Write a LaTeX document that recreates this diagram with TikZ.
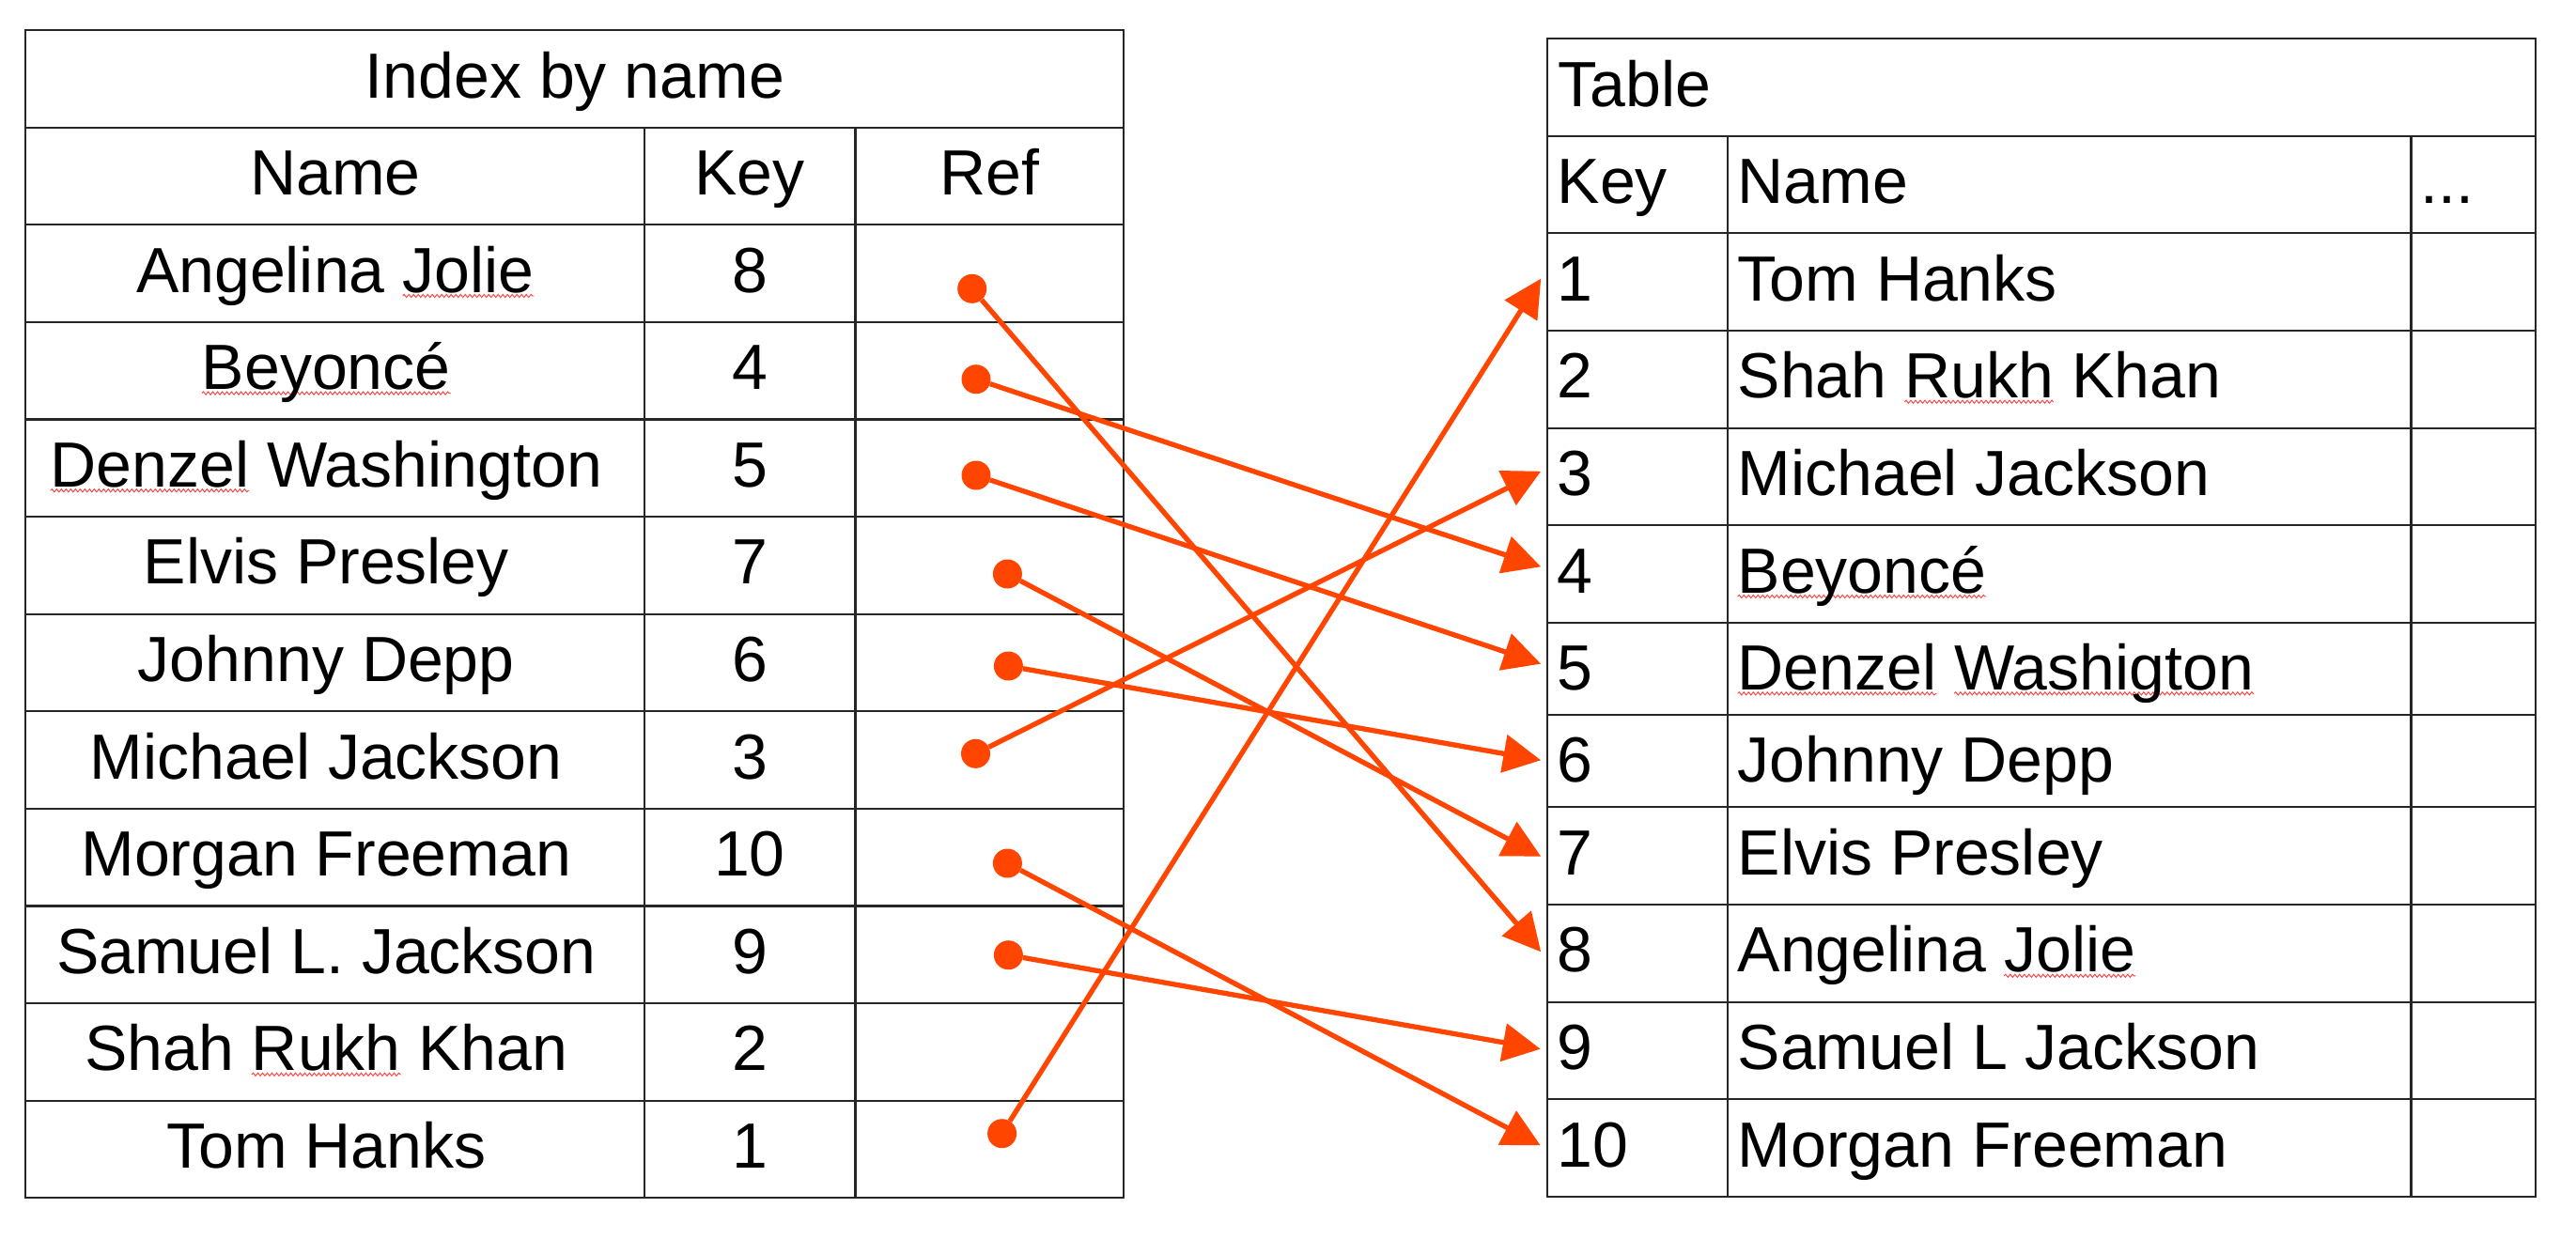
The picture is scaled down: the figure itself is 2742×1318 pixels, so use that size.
\documentclass[tikz,border=0pt]{standalone}
\usepackage{fontspec}
\setmainfont{Liberation Sans}
\usetikzlibrary{arrows.meta,decorations.pathmorphing}
\definecolor{arr}{HTML}{FF4500}
\definecolor{squigc}{HTML}{FF3B3B}
\newsavebox\sqbox
\newlength\sqwd
\newcommand\sq[1]{\sbox\sqbox{#1}\setlength\sqwd{\wd\sqbox}\rlap{\tikz[overlay,baseline=0pt]\draw[squigc,line width=0.9pt,decorate,decoration={snake,amplitude=1.6pt,segment length=5pt}] (0pt,-4pt) -- (\sqwd,-4pt);}\usebox\sqbox}
\begin{document}
\begin{tikzpicture}[x=1pt,y=-1pt,
  tbl/.style={draw=black!85,line width=2.2pt},
  txt/.style={font=\fontsize{68}{80}\selectfont,inner sep=0pt,anchor=base},
  ltxt/.style={txt,anchor=base west},
  dotn/.style={circle,fill=arr,inner sep=0pt,minimum size=31pt},
  link/.style={draw=arr,line width=5.3pt,-{Triangle[length=40pt,width=40pt]}}]
\fill[white] (0,0) rectangle (2742,1318);
\useasboundingbox (0,0) rectangle (2742,1318);

% ---------- left table ----------
\draw[tbl] (27,32) rectangle (1196,1275.2);
\foreach \i in {1,...,11}{
  \pgfmathsetmacro\yy{32+103.6*\i}
  \draw[tbl] (27,\yy) -- (1196,\yy);
}
\draw[tbl] (685.6,135.6) -- (685.6,1275.2);
\draw[tbl] (910.4,135.6) -- (910.4,1275.2);
\node[txt] (ltitle) at (612,104.3) {Index by name};
\node[txt] (lhname) at (356.8,207.4) {Name};
\node[txt] (lhkey) at (798,207.4) {Key};
\node[txt] (lhref) at (1053.2,207.4) {Ref};
\foreach \nm/\k/\xc [count=\r from 1] in {Angelina \sq{Jolie}/8/356.8,\sq{Beyoncé}/4/347.3,\sq{Denzel} Washington/5/347.3,Elvis Presley/7/347.3,Johnny Depp/6/347.3,Michael Jackson/3/347.3,Morgan Freeman/10/347.3,Samuel L. Jackson/9/347.3,Shah \sq{Rukh} Khan/2/347.3,Tom Hanks/1/347.3}{
  \pgfmathsetmacro\yb{32+103.6*(\r+1.5)+20}
  \node[txt] (lname\r) at (\xc,\yb) {\nm};
  \node[txt] (lkey\r) at (798,\yb) {\k};
}

% ---------- right table ----------
\draw[tbl] (1647.3,40.7) rectangle (2698.7,1273.7);
\foreach \yy in {144.7,248.3,351.7,455.7,559.3,662.7,760.7,859.3,963,1066.7,1170.3}{
  \draw[tbl] (1647.3,\yy) -- (2698.7,\yy);
}
\draw[tbl] (1838.9,144.7) -- (1838.9,1273.7);
\draw[tbl] (2566.4,144.7) -- (2566.4,1273.7);
\node[ltxt] (rtitle) at (1658.5,113.3) {Table};
\node[ltxt] (rhkey) at (1657.5,216.7) {Key};
\node[ltxt] (rhname) at (1849.5,216.7) {Name};
\node[ltxt] (rhdots) at (2576,216.7) {...};
\foreach \k/\nm/\yb in {1/Tom Hanks/320,2/Shah \sq{Rukh} Khan/423.7,3/Michael Jackson/527.5,4/\sq{Beyoncé}/631,5/\sq{Denzel} \sq{Washigton}/734.3,6/Johnny Depp/832,7/Elvis Presley/931,8/Angelina \sq{Jolie}/1034.8,9/Samuel L Jackson/1138.5,10/Morgan Freeman/1242}{
  \node[ltxt] (rkey\k) at (1657.5,\yb) {\k};
  \node[ltxt] (rname\k) at (1849.5,\yb) {\nm};
}

% ---------- references ----------
\node[dotn] (d1) at (1034.7,307.3) {};
\node[dotn] (d2) at (1039,403.7) {};
\node[dotn] (d3) at (1039,506) {};
\node[dotn] (d4) at (1072.4,611) {};
\node[dotn] (d5) at (1073.4,709) {};
\node[dotn] (d6) at (1038.5,802.3) {};
\node[dotn] (d7) at (1072.4,919) {};
\node[dotn] (d8) at (1073.4,1016.7) {};
\node[dotn] (d10) at (1066.6,1206.7) {};

\coordinate (t1) at (1640.2,296.7);
\coordinate (t3) at (1640.2,501.7);
\coordinate (t4) at (1640.2,603.3);
\coordinate (t5) at (1640.2,706.7);
\coordinate (t6) at (1640.2,809.3);
\coordinate (t7) at (1640.2,911.7);
\coordinate (t8) at (1640.2,1013.3);
\coordinate (t9) at (1639.7,1116.7);
\coordinate (t10) at (1639.7,1219.3);

\draw[link] (d1) -- (t8);
\draw[link] (d2) -- (t4);
\draw[link] (d3) -- (t5);
\draw[link] (d4) -- (t7);
\draw[link] (d5) -- (t6);
\draw[link] (d6) -- (t3);
\draw[link] (d7) -- (t10);
\draw[link] (d8) -- (t9);
\draw[link] (d10) -- (t1);
\end{tikzpicture}
\end{document}
